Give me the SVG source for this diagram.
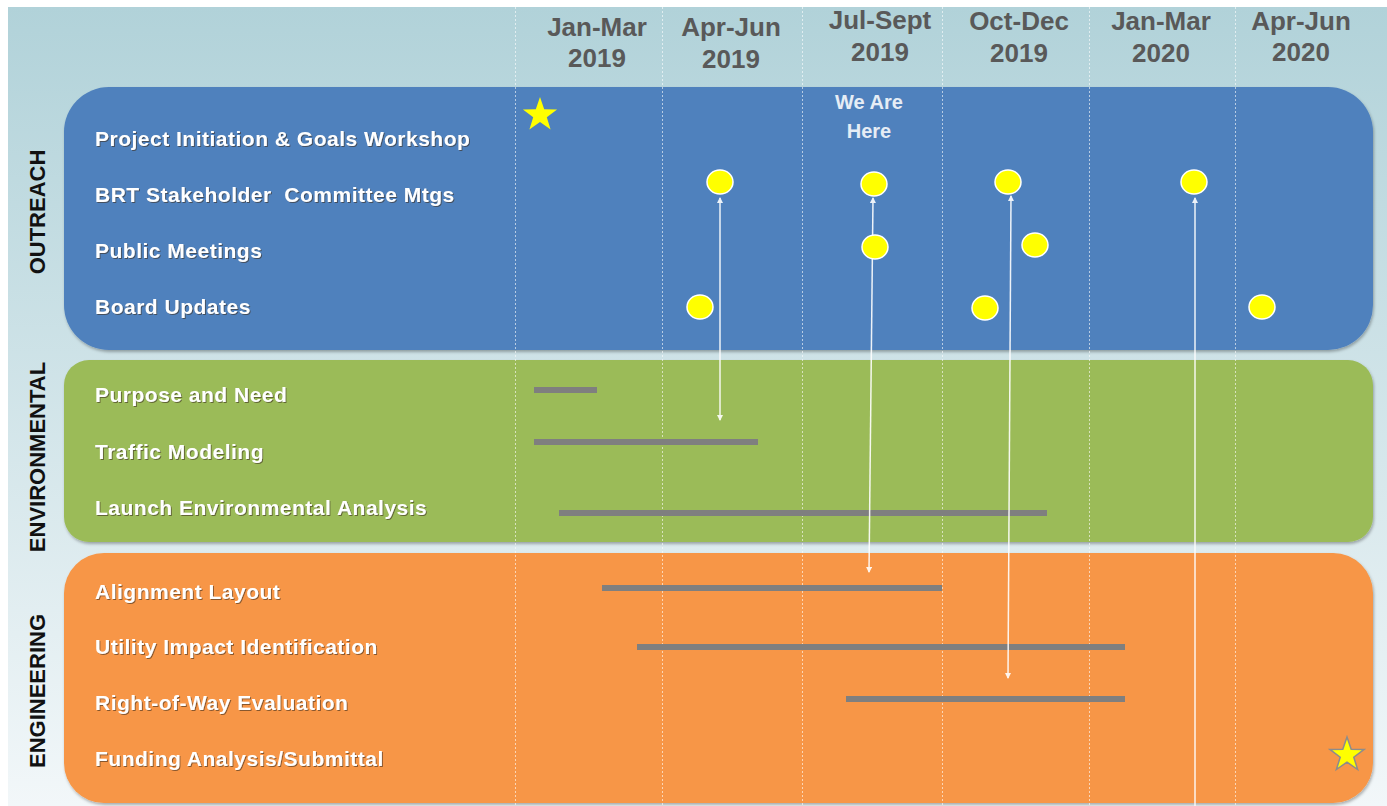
<svg xmlns="http://www.w3.org/2000/svg" width="1387" height="806" viewBox="0 0 1387 806">
<style>
.hdr{font-family:"Liberation Sans",Arial,sans-serif;font-weight:bold;font-size:26px;fill:#595959;text-anchor:middle}
.lbl{font-family:"Liberation Sans",Arial,sans-serif;font-weight:bold;font-size:21px;letter-spacing:0.5px;fill:#ffffff;filter:url(#ts)}
.sec{font-family:"Liberation Sans",Arial,sans-serif;font-weight:bold;font-size:22px;fill:#111111;text-anchor:middle}
.grid{stroke:#ffffff;stroke-width:1;stroke-dasharray:2 2;opacity:0.6}
.bar{fill:#7f7f7f}
.dot{fill:#ffff00;stroke:#ffffff;stroke-width:1.5}
.con{stroke:#ffffff;stroke-width:1.5;fill:none;opacity:0.9}
.here{font-family:"Liberation Sans",Arial,sans-serif;font-weight:bold;font-size:20px;fill:#e6edf5;text-anchor:middle}
</style>
<defs>
<linearGradient id="bg" x1="0" y1="0" x2="0" y2="1">
<stop offset="0" stop-color="#b1d2d9"/>
<stop offset="1" stop-color="#f2f7f9"/>
</linearGradient>
<filter id="sh" x="-5%" y="-5%" width="110%" height="115%">
<feDropShadow dx="1" dy="2" stdDeviation="1.5" flood-color="#000" flood-opacity="0.3"/>
</filter>
<filter id="ts" x="-5%" y="-20%" width="110%" height="150%">
<feDropShadow dx="1" dy="1" stdDeviation="0.6" flood-color="#3a2a1a" flood-opacity="0.6"/>
</filter>
<marker id="ah" markerWidth="6" markerHeight="6" refX="5" refY="3" orient="auto-start-reverse" markerUnits="userSpaceOnUse">
<path d="M0,0 L6,3 L0,6 z" fill="#ffffff"/>
</marker>
</defs>
<rect x="0" y="0" width="1387" height="806" fill="#ffffff"/>
<rect x="8" y="7" width="1379" height="799" fill="url(#bg)"/>

<g id="outreach">
<rect x="64" y="87" width="1309" height="263" rx="45" ry="45" fill="#4f81bd" filter="url(#sh)"/>
</g>
<g id="environmental">
<rect x="64" y="360" width="1309" height="182" rx="25" ry="25" fill="#9bbb59" filter="url(#sh)"/>
</g>
<g id="engineering">
<rect x="64" y="553" width="1309" height="250" rx="40" ry="40" fill="#f79646" filter="url(#sh)"/>
</g>

<g id="grid">
<line class="grid" x1="515.5" y1="7" x2="515.5" y2="806"/>
<line class="grid" x1="662.5" y1="7" x2="662.5" y2="806"/>
<line class="grid" x1="802.5" y1="7" x2="802.5" y2="806"/>
<line class="grid" x1="942.5" y1="7" x2="942.5" y2="806"/>
<line class="grid" x1="1089.5" y1="7" x2="1089.5" y2="806"/>
<line class="grid" x1="1235.5" y1="7" x2="1235.5" y2="806"/>
</g>

<g id="headers">
<text class="hdr" x="597" y="36">Jan-Mar</text><text class="hdr" x="597" y="67">2019</text>
<text class="hdr" x="731" y="36">Apr-Jun</text><text class="hdr" x="731" y="68">2019</text>
<text class="hdr" x="880" y="29">Jul-Sept</text><text class="hdr" x="880" y="61">2019</text>
<text class="hdr" x="1019" y="30">Oct-Dec</text><text class="hdr" x="1019" y="62">2019</text>
<text class="hdr" x="1161" y="30">Jan-Mar</text><text class="hdr" x="1161" y="62">2020</text>
<text class="hdr" x="1301" y="30">Apr-Jun</text><text class="hdr" x="1301" y="61">2020</text>
</g>

<g id="sections">
<text class="sec" transform="translate(45,212) rotate(-90)">OUTREACH</text>
<text class="sec" transform="translate(45,457) rotate(-90)">ENVIRONMENTAL</text>
<text class="sec" transform="translate(45,691) rotate(-90)">ENGINEERING</text>
</g>

<g id="labels">
<text class="lbl" x="95" y="146">Project Initiation &amp; Goals Workshop</text>
<text class="lbl" x="95" y="202" xml:space="preserve">BRT Stakeholder  Committee Mtgs</text>
<text class="lbl" x="95" y="258">Public Meetings</text>
<text class="lbl" x="95" y="314">Board Updates</text>
<text class="lbl" x="95" y="402">Purpose and Need</text>
<text class="lbl" x="95" y="459">Traffic Modeling</text>
<text class="lbl" x="95" y="515">Launch Environmental Analysis</text>
<text class="lbl" x="95" y="599">Alignment Layout</text>
<text class="lbl" x="95" y="654">Utility Impact Identification</text>
<text class="lbl" x="95" y="710">Right-of-Way Evaluation</text>
<text class="lbl" x="95" y="766">Funding Analysis/Submittal</text>
</g>

<g id="we-are-here">
<text class="here" x="869" y="109">We Are</text>
<text class="here" x="869" y="138">Here</text>
</g>

<g id="bars">
<rect class="bar" x="534" y="387" width="63" height="6"/>
<rect class="bar" x="534" y="439" width="224" height="6"/>
<rect class="bar" x="559" y="510" width="488" height="6"/>
<rect class="bar" x="602" y="585" width="340" height="6"/>
<rect class="bar" x="637" y="644" width="488" height="6"/>
<rect class="bar" x="846" y="696" width="279" height="6"/>
</g>

<g id="connectors">
<line class="con" x1="720" y1="198" x2="720" y2="420" marker-start="url(#ah)" marker-end="url(#ah)"/>
<line class="con" x1="873" y1="198" x2="869" y2="572" marker-start="url(#ah)" marker-end="url(#ah)"/>
<line class="con" x1="1011" y1="196" x2="1008" y2="678" marker-start="url(#ah)" marker-end="url(#ah)"/>
<line class="con" x1="1195" y1="198" x2="1195" y2="806" marker-start="url(#ah)"/>
</g>

<g id="milestones">
<path d="M540,97 L544.2,109.2 L557.1,109.4 L546.8,117.2 L550.6,129.5 L540,122.1 L529.4,129.5 L533.2,117.2 L522.9,109.4 L535.8,109.2 Z" fill="#ffff00"/>
<path d="M1347,737 L1351.2,749.2 L1364.1,749.4 L1353.8,757.2 L1357.6,769.5 L1347,762.1 L1336.4,769.5 L1340.2,757.2 L1329.9,749.4 L1342.8,749.2 Z" fill="#ffff00" stroke="#8c8c8c" stroke-width="1.5"/>
<ellipse class="dot" cx="720" cy="182" rx="13" ry="12"/>
<ellipse class="dot" cx="874" cy="184" rx="13" ry="12"/>
<ellipse class="dot" cx="1008" cy="182" rx="13" ry="12"/>
<ellipse class="dot" cx="1194" cy="182" rx="13" ry="12"/>
<ellipse class="dot" cx="875" cy="247" rx="13" ry="12"/>
<ellipse class="dot" cx="1035" cy="245" rx="13" ry="12"/>
<ellipse class="dot" cx="700" cy="307" rx="13" ry="12"/>
<ellipse class="dot" cx="985" cy="308" rx="13" ry="12"/>
<ellipse class="dot" cx="1262" cy="307" rx="13" ry="12"/>
</g>
</svg>
